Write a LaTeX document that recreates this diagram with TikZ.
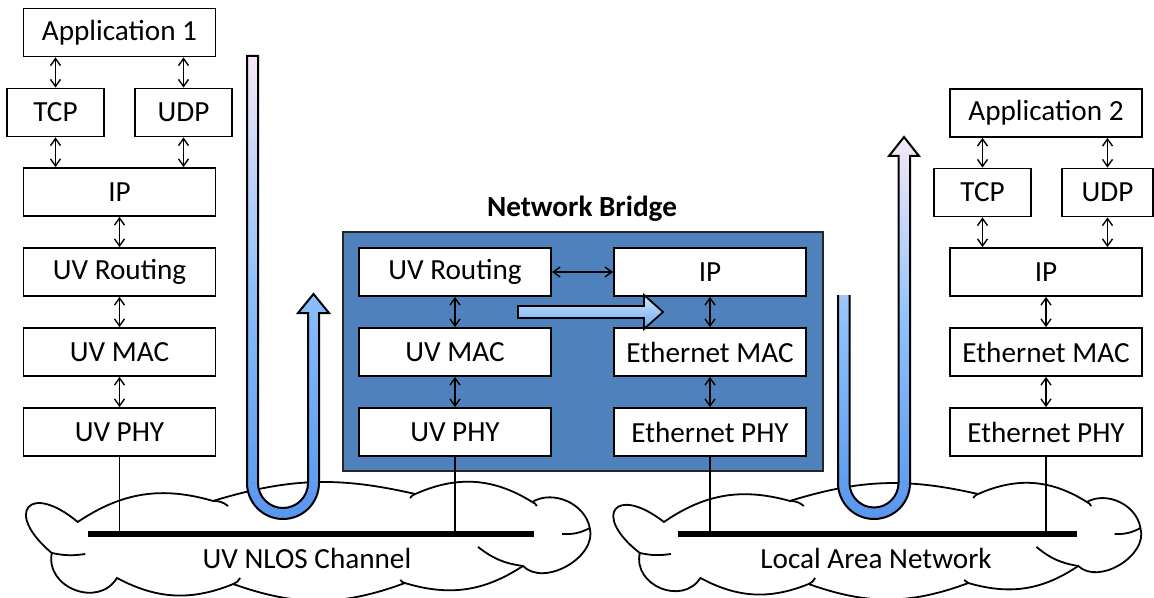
\documentclass[tikz,border=0pt]{standalone}
\usepackage{fontspec}
\setmainfont{Carlito}
\usetikzlibrary{arrows.meta}
\definecolor{bridgeblue}{RGB}{79,129,189}
\definecolor{tubetop}{RGB}{246,232,246}
\definecolor{tubemid}{RGB}{140,192,250}
\definecolor{tubebot}{RGB}{88,150,238}
\definecolor{flowtop}{RGB}{214,232,252}
\definecolor{flowbot}{RGB}{105,165,240}
\newcommand\lyrfont{\fontsize{14.6}{17}\selectfont}
\tikzset{
  layer/.style={draw, fill=white, line width=0.9pt, minimum width=96pt, minimum height=24pt, inner sep=0pt},
  halflayer/.style={layer, minimum width=48.5pt},
  updown/.style={{Straight Barb[length=3.5pt,width=5pt]}-{Straight Barb[length=3.5pt,width=5pt]}, line width=0.7pt},
  drop/.style={line width=0.75pt},
  bus/.style={line width=3pt},
  cloudline/.style={line width=0.9pt},
  tube/.style={draw, line width=1pt, top color=tubetop, bottom color=tubebot, middle color=tubemid},
  flow/.style={draw, line width=0.9pt, top color=flowtop, bottom color=flowbot},
}
% cloud outline in a unit box: #1 top left corner, #2 width, #3 height
\newcommand\netcloud[3]{%
  \begin{scope}[shift={#1}, x=#2, y=-#3]
    \draw[cloudline, fill=white] (0.050,0.600) to[bend left=90, looseness=4] (0.095,0.318)
      to[bend left=25] (0.330,0.127) to[bend left=15] (0.681,0.064)
      to[bend left=28] (0.884,0.136) to[bend left=55] (0.984,0.373)
      to[bend left=75] (0.868,0.718) to[bend left=25] (0.663,0.873)
      to[bend left=20] (0.365,0.882) to[bend left=25] (0.163,0.827)
      to[bend left=80, looseness=1.3] cycle;
    \draw[cloudline] (0.050,0.600) to[bend right=10] (0.108,0.609);
    \draw[cloudline] (0.330,0.127) to[bend left=20] (0.356,0.173);
    \draw[cloudline] (0.681,0.064) to[bend right=20] (0.672,0.100);
    \draw[cloudline] (0.884,0.136) to[bend left=20] (0.892,0.173);
    \draw[cloudline] (0.984,0.373) to[bend left=15] (0.936,0.427);
    \draw[cloudline] (0.868,0.718) to[bend left=15] (0.790,0.545);
    \draw[cloudline] (0.663,0.873) to[bend left=20] (0.655,0.845);
    \draw[cloudline] (0.365,0.882) to[bend right=20] (0.377,0.827);
  \end{scope}}

\begin{document}
\begin{tikzpicture}[x=0.5pt, y=-0.5pt, font=\lyrfont]
	%%%%% START %%%%%
	\useasboundingbox (0,0) rectangle (1154,598);

	% clouds and buses
	\netcloud{(23,487)}{288pt}{55pt}
	\netcloud{(613,487)}{268pt}{55pt}
	\node (uvlabel) at (307,558) {UV NLOS Channel};
	\node (lanlabel) at (876,558) {Local Area Network};

	\coordinate (busA) at (88,534);
	\coordinate (busB) at (534,534);
	\coordinate (busC) at (678,534);
	\coordinate (busD) at (1077,534);

	% bridge
	\node[draw=black!85, fill=bridgeblue, line width=0.8pt, minimum width=240pt, minimum height=119.5pt] (bridge) at (583,351.5) {};
	\node[font=\lyrfont\bfseries] (bridgetitle) at (582,209) {Network Bridge};

	% left host
	\node[layer] (app1) at (119.5,32.5) {Application 1};
	\node[halflayer] (tcp1) at (55.5,112.5) {TCP};
	\node[halflayer] (udp1) at (183.5,112.5) {UDP};
	\node[layer] (ip1) at (119.5,192) {IP};
	\node[layer] (rout1) at (119.5,272) {UV Routing};
	\node[layer] (mac1) at (119.5,352) {UV MAC};
	\node[layer] (phy1) at (119.5,432) {UV PHY};

	% bridge stacks
	\node[layer] (brout) at (455,272) {UV Routing};
	\node[layer] (bmac) at (455,352) {UV MAC};
	\node[layer] (bphy) at (455,432) {UV PHY};
	\node[layer] (bip) at (710,272) {IP};
	\node[layer] (bemac) at (710,352) {Ethernet MAC};
	\node[layer] (bephy) at (710,432) {Ethernet PHY};

	% right host
	\node[layer] (app2) at (1046,113) {Application 2};
	\node[halflayer] (tcp2) at (982.5,192.5) {TCP};
	\node[halflayer, minimum width=45.5pt] (udp2) at (1107.5,192.5) {UDP};
	\node[layer] (ip2) at (1046,272) {IP};
	\node[layer] (emac2) at (1046,352) {Ethernet MAC};
	\node[layer] (ephy2) at (1046,432) {Ethernet PHY};

	% wires
	\draw[drop] (phy1) -- (phy1 |- busA);
	\draw[drop] (bphy) -- (bphy |- busA);
	\draw[drop] (bephy) -- (bephy |- busC);
	\draw[drop] (ephy2) -- (ephy2 |- busC);
	\draw[bus] (busA) -- (busB);
	\draw[bus] (busC) -- (busD);

	\draw[updown] (app1.south -| tcp1) -- (tcp1);
	\draw[updown] (app1.south -| udp1) -- (udp1);
	\draw[updown] (tcp1) -- (tcp1 |- ip1.north);
	\draw[updown] (udp1) -- (udp1 |- ip1.north);
	\draw[updown] (ip1) -- (rout1);
	\draw[updown] (rout1) -- (mac1);
	\draw[updown] (mac1) -- (phy1);

	\draw[updown] (brout) -- (bip);
	\draw[updown] (brout) -- (bmac);
	\draw[updown] (bmac) -- (bphy);
	\draw[updown] (bip) -- (bemac);
	\draw[updown] (bemac) -- (bephy);

	\draw[updown] (app2.south -| tcp2) -- (tcp2);
	\draw[updown] (app2.south -| udp2) -- (udp2);
	\draw[updown] (tcp2) -- (tcp2 |- ip2.north);
	\draw[updown] (udp2) -- (udp2 |- ip2.north);
	\draw[updown] (ip2) -- (emac2);
	\draw[updown] (emac2) -- (ephy2);

	% data path
	\path[tube] (247,56) -- (247,483) .. controls (247,502.9) and (263.1,519) .. (283,519)
		.. controls (302.9,519) and (319,502.9) .. (319,483) -- (319,313) -- (329,313) -- (313.5,294)
		-- (298,313) -- (308,313) -- (308,483) .. controls (308,496.8) and (296.8,508) .. (283,508)
		.. controls (269.2,508) and (258,496.8) .. (258,483) -- (258,56) -- cycle;
	\path[flow] (518,306) -- (644,306) -- (644,295) -- (663,312) -- (644,329) -- (644,318) -- (518,318) -- cycle;
	\path[tube] (849.5,295) -- (849.5,483) .. controls (849.5,496.5) and (860.5,507.5) .. (874,507.5)
		.. controls (887.5,507.5) and (898.5,496.5) .. (898.5,483) -- (898.5,156) -- (889,156) -- (904,137)
		-- (919,156) -- (910,156) -- (910,483) .. controls (910,502.9) and (893.9,519) .. (874,519)
		.. controls (854.1,519) and (838,502.9) .. (838,483) -- (838,295);
	%%%%% END %%%%%
\end{tikzpicture}
\end{document}
